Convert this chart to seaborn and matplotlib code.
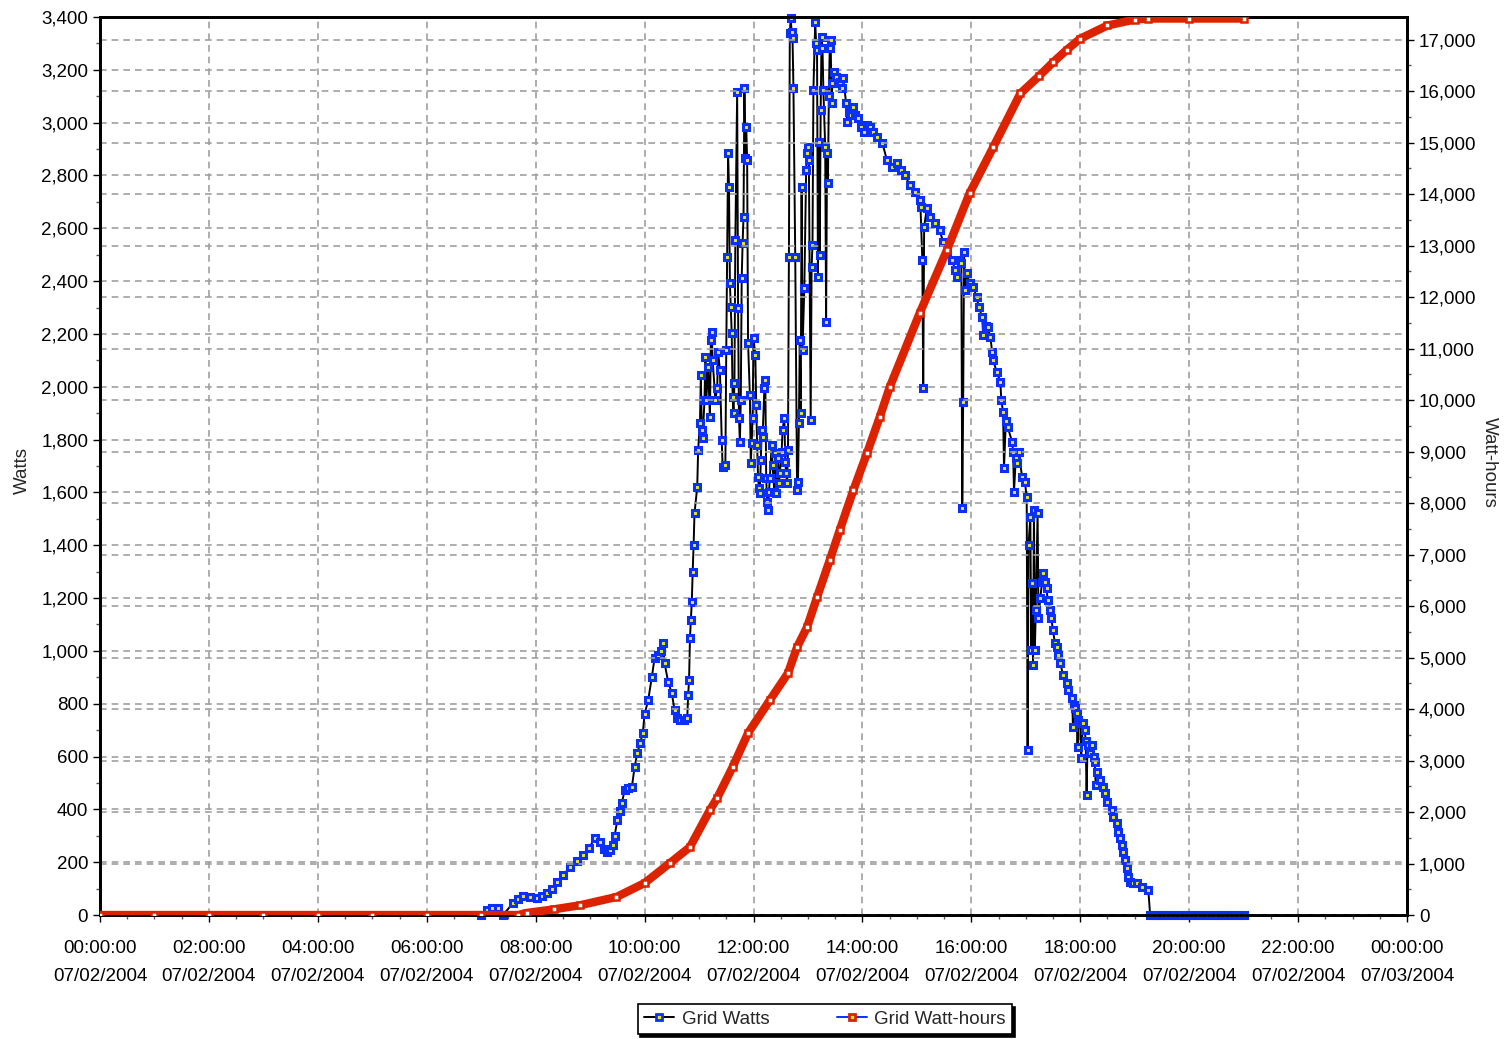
import numpy as np
import pandas as pd
import matplotlib
matplotlib.use("Agg")
import matplotlib.pyplot as plt
import matplotlib.dates as mdates
from matplotlib.ticker import MultipleLocator, FuncFormatter
from matplotlib.lines import Line2D
import seaborn as sns

# ---------------- data (minutes after midnight, 07/02/2004) ----------------
watts_minutes = [
    420, 426, 432, 438, 444, 455, 460, 466, 474, 481, 487, 492, 498, 503, 510, 518, 525, 532, 539, 545,
    551, 555, 559, 562, 565, 567, 570, 573, 575, 578, 582, 586, 589, 592, 595, 598, 600, 604, 608, 611,
    615, 618, 620, 622, 626, 630, 633, 636, 639, 643, 647, 648, 649, 650, 651, 652, 653, 654, 655, 658,
    659, 661, 662, 663, 664, 666, 667, 668, 670, 672, 673, 674, 675, 678, 680, 681, 683, 685, 686, 689,
    690, 691, 692, 693, 694, 695, 696, 697, 698, 699, 700, 702, 703, 704, 705, 706, 707, 708, 709, 710,
    711, 712, 713, 714, 716, 717, 718, 719, 720, 722, 723, 724, 725, 726, 727, 728, 729, 730, 732, 733,
    734, 735, 736, 737, 738, 740, 741, 743, 744, 745, 747, 748, 749, 751, 752, 754, 755, 756, 757, 758,
    759, 760, 761, 762, 763, 764, 766, 768, 769, 770, 771, 772, 773, 774, 776, 778, 779, 780, 781, 783,
    784, 785, 786, 788, 789, 790, 791, 792, 793, 794, 795, 796, 797, 799, 800, 801, 802, 803, 804, 805,
    806, 807, 809, 811, 813, 815, 817, 819, 822, 823, 825, 827, 830, 832, 835, 838, 842, 845, 848, 852,
    856, 862, 867, 873, 878, 882, 887, 892, 898, 903, 904, 906, 907, 908, 911, 914, 920, 925, 929, 933,
    939, 942, 944, 946, 949, 950, 951, 952, 953, 955, 958, 962, 966, 968, 972, 973, 976, 978, 981, 983,
    984, 988, 992, 993, 995, 996, 998, 1000, 1005, 1006, 1007, 1009, 1010, 1012, 1016, 1019, 1021, 1022, 1023, 1025,
    1026, 1027, 1028, 1029, 1030, 1031, 1033, 1034, 1036, 1038, 1039, 1041, 1043, 1044, 1047, 1048, 1050, 1052, 1054, 1055,
    1058, 1061, 1065, 1066, 1071, 1072, 1073, 1074, 1076, 1077, 1078, 1080, 1081, 1083, 1085, 1086, 1087, 1088, 1091, 1093,
    1095, 1096, 1097, 1099, 1102, 1105, 1107, 1110, 1115, 1116, 1120, 1122, 1124, 1126, 1127, 1129, 1131, 1133, 1135, 1138,
    1142, 1148, 1155, 1157, 1160, 1165, 1170, 1175, 1180, 1185, 1190, 1195, 1200, 1205, 1210, 1215, 1220, 1225, 1230, 1235,
    1240, 1245, 1250, 1255, 1260,
]
watts_values = [
    0, 20, 25, 28, 0, 45, 60, 72, 68, 64, 72, 83, 100, 125, 150, 182, 205, 227, 255, 290,
    275, 250, 240, 245, 265, 300, 360, 395, 424, 473, 480, 485, 560, 613, 650, 689, 760, 814, 901, 973,
    984, 1000, 1030, 954, 882, 840, 776, 745, 738, 740, 746, 833, 890, 1049, 1117, 1185, 1300, 1400, 1522, 1620,
    1760, 1862, 2044, 1836, 1805, 1950, 2113, 1950, 2075, 1885, 2177, 2207, 2100, 1950, 1995, 2131, 2063, 1798, 1696, 1703,
    2139, 2491, 2885, 2756, 2393, 2302, 2203, 1961, 1900, 2014, 2556, 3116, 2298, 1882, 1791, 1950, 2412, 2544, 2643, 3131,
    2866, 2983, 2858, 2165, 1969, 1711, 1787, 1882, 2184, 2120, 1931, 1779, 1658, 1617, 1598, 1723, 1836, 1810, 1995, 2025,
    1654, 1564, 1533, 1601, 1654, 1779, 1703, 1601, 1749, 1598, 1730, 1635, 1673, 1753, 1836, 1882, 1715, 1673, 1635, 1760,
    2491, 3339, 3396, 3343, 3320, 3131, 2491, 1609, 1639, 1862, 2177, 1900, 2756, 2139, 2374, 2821, 2885, 2908, 2858, 1874,
    2453, 2537, 3123, 3381, 3301, 3275, 2415, 2927, 2499, 3048, 3324, 3282, 3123, 2908, 2245, 2885, 2771, 3100, 3282, 3313,
    3074, 3150, 3192, 3173, 3150, 3154, 3131, 3169, 3074, 3002, 3040, 3029, 3059, 3029, 3017, 2983, 2964, 2990, 2983, 2964,
    2945, 2923, 2858, 2832, 2847, 2820, 2802, 2764, 2737, 2707, 2681, 2480, 1995, 2605, 2677, 2643, 2620, 2593, 2548, 2506,
    2480, 2442, 2415, 2480, 2468, 1541, 1942, 2510, 2366, 2430, 2393, 2378, 2340, 2302, 2264, 2196, 2230, 2226, 2188, 2131,
    2101, 2056, 2018, 1950, 1904, 1692, 1870, 1848, 1791, 1753, 1602, 1730, 1711, 1753, 1658, 1639, 1583, 625, 1401, 1507,
    1003, 1257, 947, 1533, 1003, 1155, 1522, 1124, 1200, 1261, 1295, 1261, 1238, 1193, 1155, 1124, 1079, 1030, 1015, 984,
    954, 909, 878, 852, 822, 712, 795, 784, 765, 636, 740, 727, 594, 727, 700, 660, 454, 644, 613, 644,
    600, 579, 492, 541, 511, 485, 462, 428, 398, 371, 348, 314, 292, 265, 239, 208, 178, 144, 125, 121,
    121, 106, 95, 0, 0, 0, 0, 0, 0, 0, 0, 0, 0, 0, 0, 0, 0, 0, 0, 0,
    0, 0, 0, 0, 0,
]

wh_minutes = [0, 60, 120, 180, 240, 300, 360, 420, 461, 470, 500, 529, 569, 600, 628, 650, 672, 680, 697, 714,
              738, 758, 768, 779, 790, 804, 815, 830, 845, 859, 870, 903, 933, 958, 984, 1014, 1035, 1050,
              1065, 1080, 1110, 1140, 1155, 1200, 1260]
wh_values = [0, 0, 0, 0, 0, 0, 0, 0, 0, 40, 110, 190, 350, 620, 1010, 1320, 2040, 2271, 2873, 3533,
             4173, 4697, 5202, 5590, 6172, 6891, 7473, 8249, 8967, 9666, 10248, 11685, 12908, 14014, 14907, 15955, 16300, 16560,
             16800, 17020, 17275, 17390, 17410, 17410, 17410]

series_labels = ["Grid Watts", "Grid Watt-hours"]
left_label = "Watts"
right_label = "Watt-hours"
chart_day = "2004-07-02"

assert len(watts_minutes) == len(watts_values)
assert len(wh_minutes) == len(wh_values)

# ---------------- styling ----------------
sns.set_style("white")
plt.rcParams['font.family'] = ['Liberation Sans', 'DejaVu Sans']

base = pd.Timestamp(chart_day)
df_w = pd.DataFrame({"time": base + pd.to_timedelta(watts_minutes, unit="m"), "watts": watts_values})
df_wh = pd.DataFrame({"time": base + pd.to_timedelta(wh_minutes, unit="m"), "wh": wh_values})

W, H = 1508, 1039
fig = plt.figure(figsize=(W / 100, H / 100), dpi=100)
x0, x1, ytop, ybot = 100, 1407, 17, 915
ax = fig.add_axes([x0 / W, 1 - ybot / H, (x1 - x0) / W, (ybot - ytop) / H])
ax2 = ax.twinx()

BLUE = "#0a30ff"
YEL = "#e8e820"
RED = "#dd2200"
GRID = "#a0a0a0"
FS = 13.5

sns.lineplot(data=df_w, x="time", y="watts", ax=ax, color="black", lw=1.4,
             marker="s", markersize=5, markerfacecolor=YEL, markeredgecolor=BLUE,
             markeredgewidth=2.2, estimator=None, sort=False, zorder=3, legend=False,
             clip_on=False)
sns.lineplot(data=df_wh, x="time", y="wh", ax=ax2, color=RED, lw=6,
             estimator=None, sort=False, zorder=3, legend=False, solid_capstyle="butt")
sns.lineplot(data=df_wh, x="time", y="wh", ax=ax2, color=RED, lw=0,
             marker="s", markersize=4.5, markerfacecolor="white", markeredgecolor=RED,
             markeredgewidth=1.8, estimator=None, sort=False, zorder=4, legend=False)

ax.set_xlim(base, base + pd.Timedelta(days=1))
ax.set_ylim(0, 3400)
ax2.set_ylim(0, 17440)

ax.xaxis.set_major_locator(mdates.HourLocator(byhour=range(0, 24, 2)))
ax.xaxis.set_minor_locator(mdates.MinuteLocator(byminute=[0, 30]))
ax.xaxis.set_major_formatter(mdates.DateFormatter("%H:%M:%S\n%m/%d/%Y"))
ax.yaxis.set_major_locator(MultipleLocator(200))
ax.yaxis.set_minor_locator(MultipleLocator(100))
ax2.yaxis.set_major_locator(MultipleLocator(1000))
ax2.yaxis.set_minor_locator(MultipleLocator(500))
fmt = FuncFormatter(lambda v, p: f"{v:,.0f}")
ax.yaxis.set_major_formatter(fmt)
ax2.yaxis.set_major_formatter(fmt)

for a in (ax, ax2):
    a.tick_params(which="major", direction="out", length=5, width=1, colors="black", labelsize=FS)
    a.tick_params(which="minor", direction="out", length=3, width=1, colors="#555555")
    for s in a.spines.values():
        s.set_color("black")
        s.set_linewidth(2)
ax.tick_params(axis="x", which="both", bottom=True)
ax.tick_params(axis="x", which="major", pad=13)
ax.tick_params(axis="y", which="both", left=True)
ax2.tick_params(axis="y", which="both", right=True)
for lbl in ax.get_xticklabels():
    lbl.set_linespacing(1.85)

ax.grid(True, which="major", axis="both", color=GRID, lw=1.2, ls=(0, (4, 3)))
ax2.grid(True, which="major", axis="y", color=GRID, lw=1.2, ls=(0, (4, 3)))
ax.set_axisbelow(True)

ax.set_xlabel("")
ax.set_ylabel(left_label, fontsize=FS)
ax2.set_ylabel(right_label, fontsize=FS, rotation=270)
ax.yaxis.set_label_coords((31 - x0) / (x1 - x0), 0.4955)
ax2.yaxis.set_label_coords((1498 - x0) / (x1 - x0), 0.504)

handles = [
    Line2D([], [], color="black", lw=1.4, marker="s", markersize=5,
           markerfacecolor=YEL, markeredgecolor=BLUE, markeredgewidth=2),
    Line2D([], [], color=BLUE, lw=1.4, marker="s", markersize=5,
           markerfacecolor=YEL, markeredgecolor=RED, markeredgewidth=2),
]
leg = fig.legend(handles, series_labels, loc="center", bbox_to_anchor=(825 / W, 1 - 1019 / H),
                 ncol=2, frameon=True, fancybox=False, fontsize=FS, handlelength=1.6,
                 handletextpad=0.4, columnspacing=3.6, borderpad=0.35, borderaxespad=0,
                 shadow={"color": "black", "alpha": 1})
leg.get_frame().set_edgecolor("black")
leg.get_frame().set_linewidth(1.2)

fig.savefig("out.png", dpi=100)
